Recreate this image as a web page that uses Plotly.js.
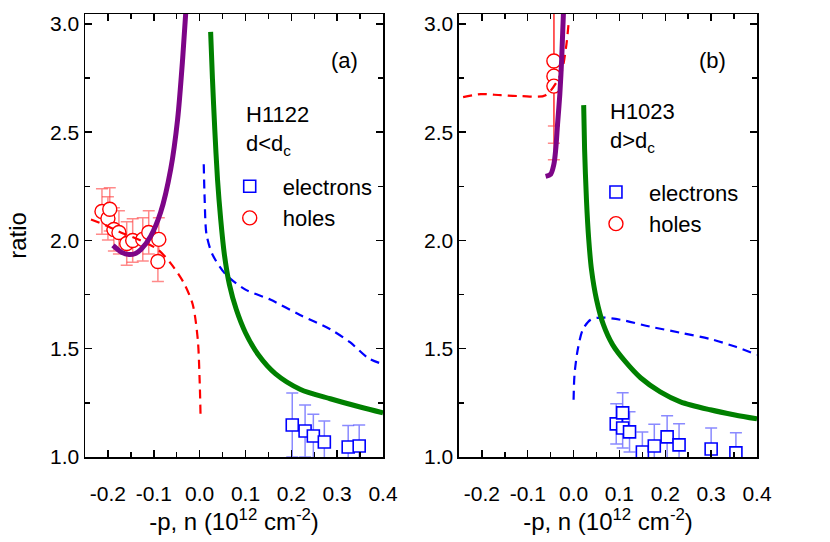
<!DOCTYPE html>
<html>
<head>
<meta charset="utf-8">
<script src="https://cdn.plot.ly/plotly-3.0.1.min.js"></script>
<style>
  body { margin: 0; background: #fff; }
  #chart { width: 830px; height: 542px; }
</style>
</head>
<body>
<div id="chart"></div>
<script>
// ---- panel (a): H1122, d < dc ----
var aElecX = [0.202, 0.230, 0.248, 0.272, 0.324, 0.348];
var aElecY = [1.148, 1.120, 1.097, 1.069, 1.046, 1.051];
var aElecErr = [0.148, 0.12, 0.10, 0.097, 0.10, 0.097];

var aHoleX = [-0.213, -0.200, -0.196, -0.187, -0.176, -0.159, -0.146, -0.124, -0.111, -0.089, -0.091];
var aHoleY = [2.134, 2.102, 2.144, 2.051, 2.037, 1.986, 2.000, 2.005, 2.037, 2.005, 1.903];
var aHoleErr = [0.105, 0.10, 0.10, 0.10, 0.10, 0.10, 0.10, 0.10, 0.10, 0.10, 0.093];

// purple (holes) solid curve
var aPurpleX = [-0.189, -0.170, -0.154, -0.140, -0.128, -0.107, -0.085, -0.063, -0.048, -0.037, -0.030];
var aPurpleY = [1.977, 1.945, 1.935, 1.940, 1.958, 2.019, 2.130, 2.330, 2.560, 2.840, 3.060];
// green (electrons) solid curve
var aGreenX = [0.024, 0.028, 0.033, 0.039, 0.046, 0.054, 0.065, 0.080, 0.100, 0.128, 0.165, 0.220, 0.285, 0.350, 0.400];
var aGreenY = [2.963, 2.745, 2.514, 2.282, 2.097, 1.935, 1.796, 1.681, 1.574, 1.472, 1.385, 1.312, 1.269, 1.231, 1.204];
// red (holes) dashed curve
var aRedX = [-0.237, -0.204, -0.172, -0.128, -0.091, -0.063, -0.035, -0.015, -0.004, 0.000, 0.002];
var aRedY = [2.097, 2.069, 2.037, 2.000, 1.958, 1.894, 1.806, 1.704, 1.542, 1.356, 1.194];
// blue (electrons) dashed curve
var aBlueX = [0.009, 0.011, 0.015, 0.028, 0.057, 0.100, 0.154, 0.220, 0.285, 0.328, 0.367, 0.400];
var aBlueY = [2.352, 2.190, 2.028, 1.935, 1.843, 1.773, 1.727, 1.655, 1.590, 1.530, 1.458, 1.428];

// ---- panel (b): H1023, d > dc ----
var bElecX = [0.093, 0.107, 0.107, 0.122, 0.150, 0.176, 0.204, 0.230, 0.300, 0.354];
var bElecY = [1.153, 1.204, 1.134, 1.116, 1.023, 1.051, 1.093, 1.056, 1.037, 1.019];
var bElecErr = [0.093, 0.093, 0.093, 0.093, 0.093, 0.10, 0.097, 0.097, 0.097, 0.093];

var bHoleX = [-0.043, -0.043, -0.043];
var bHoleY = [2.829, 2.759, 2.713];
var bHoleErr = [0.30, 0.31, 0.34];

var bPurpleX = [-0.061, -0.050, -0.043, -0.039, -0.035, -0.030, -0.026, -0.022];
var bPurpleY = [2.296, 2.306, 2.352, 2.421, 2.537, 2.676, 2.838, 3.060];
var bGreenX = [0.022, 0.024, 0.028, 0.033, 0.039, 0.050, 0.065, 0.085, 0.113, 0.146, 0.189, 0.233, 0.298, 0.352, 0.400];
var bGreenY = [2.625, 2.421, 2.190, 2.005, 1.866, 1.727, 1.611, 1.519, 1.440, 1.366, 1.301, 1.255, 1.218, 1.194, 1.176];
var bRedX = [-0.241, -0.202, -0.159, -0.115, -0.061, -0.028, -0.017, -0.011];
var bRedY = [2.662, 2.676, 2.671, 2.667, 2.671, 2.769, 2.884, 3.000];
var bBlueX = [0.000, 0.002, 0.009, 0.020, 0.037, 0.059, 0.102, 0.167, 0.233, 0.298, 0.352, 0.400];
var bBlueY = [1.264, 1.380, 1.495, 1.588, 1.634, 1.644, 1.634, 1.602, 1.574, 1.545, 1.510, 1.472];

var xTickVals = [-0.2, -0.1, 0.0, 0.1, 0.2, 0.3, 0.4];
var xTickText = ['-0.2', '-0.1', '0.0', '0.1', '0.2', '0.3', '0.4'];

var FONT = 'Liberation Sans, Arial, Helvetica, sans-serif';
var BLUE = 'rgb(0,0,255)', RED = 'rgb(255,0,0)';
var PURPLE = 'rgb(125,5,135)', GREEN = 'rgb(0,128,0)';
var XRANGE = [-0.25, 0.4];

function elec(x, y, err, xa, ya, leg, show) {
  return {
    x: x, y: y, xaxis: xa, yaxis: ya, type: 'scatter', mode: 'markers',
    name: 'electrons', legend: leg, showlegend: show,
    marker: {symbol: 'square', size: 12, color: 'white', line: {color: BLUE, width: 1.6}},
    error_y: {type: 'data', array: err, visible: true, color: 'rgba(60,60,255,0.6)', thickness: 1.5, width: 6}
  };
}
function holes(x, y, err, xa, ya, leg, show) {
  return {
    x: x, y: y, xaxis: xa, yaxis: ya, type: 'scatter', mode: 'markers',
    name: 'holes', legend: leg, showlegend: show,
    marker: {symbol: 'circle', size: 14, color: 'white', line: {color: RED, width: 1.4}},
    error_y: {type: 'data', array: err, visible: true, color: 'rgba(255,60,60,0.6)', thickness: 1.5, width: 6}
  };
}
function curve(x, y, xa, ya, color, w, dash) {
  return {
    x: x, y: y, xaxis: xa, yaxis: ya, type: 'scatter', mode: 'lines',
    showlegend: false, hoverinfo: 'skip',
    line: {color: color, width: w, dash: dash || 'solid', shape: 'spline', smoothing: 0.8}
  };
}
// empty trace so the overlaid label axis gets drawn
function holder(xa, ya) {
  return {x: [], y: [], xaxis: xa, yaxis: ya, type: 'scatter', mode: 'markers',
          showlegend: false, hoverinfo: 'skip'};
}

var data = [
  elec(aElecX, aElecY, aElecErr, 'x', 'y', 'legend', true),
  holes(aHoleX, aHoleY, aHoleErr, 'x', 'y', 'legend', true),
  curve(aRedX, aRedY, 'x', 'y', RED, 2.2, '9px,6px'),
  curve(aBlueX, aBlueY, 'x', 'y', BLUE, 2.2, '9px,6px'),
  curve(aGreenX, aGreenY, 'x', 'y', GREEN, 5),
  curve(aPurpleX, aPurpleY, 'x', 'y', PURPLE, 5),

  elec(bElecX, bElecY, bElecErr, 'x2', 'y2', 'legend2', true),
  holes(bHoleX, bHoleY, bHoleErr, 'x2', 'y2', 'legend2', true),
  curve(bRedX, bRedY, 'x2', 'y2', RED, 2.2, '9px,6px'),
  curve(bBlueX, bBlueY, 'x2', 'y2', BLUE, 2.2, '9px,6px'),
  curve(bGreenX, bGreenY, 'x2', 'y2', GREEN, 5),
  curve(bPurpleX, bPurpleY, 'x2', 'y2', PURPLE, 5),

  holder('x3', 'y'),
  holder('x4', 'y2')
];

// frame axis: line + inward ticks, no labels
function xAxis(domain, anchor) {
  return {
    domain: domain, anchor: anchor, range: XRANGE,
    tickmode: 'array', tickvals: xTickVals, showticklabels: false,
    ticks: 'inside', ticklen: 7, tickwidth: 1.5, tickcolor: 'black',
    minor: {ticks: 'inside', tick0: 0, dtick: 0.05, ticklen: 5, tickwidth: 1.5, tickcolor: 'black'},
    showline: true, linecolor: 'black', linewidth: 1.5, mirror: 'ticks',
    showgrid: false, zeroline: false
  };
}
// overlaid axis carrying the tick labels and the title, a little further down
function xLabelAxis(base, anchor) {
  return {
    overlaying: base, anchor: anchor, side: 'bottom', range: XRANGE,
    tickmode: 'array', tickvals: xTickVals, ticktext: xTickText,
    ticks: 'outside', ticklen: 18, tickcolor: 'rgba(0,0,0,0)',
    showline: false, showgrid: false, zeroline: false,
    tickfont: {family: FONT, size: 21, color: 'black'},
    title: {text: '-p, n (10<sup>12</sup> cm<sup>-2</sup>)', font: {family: FONT, size: 24, color: 'black'}, standoff: 2}
  };
}
function yAxis(anchor, title) {
  var ax = {
    anchor: anchor, range: [1.0, 3.046],
    tick0: 1, dtick: 0.5, tickformat: '.1f',
    ticks: 'inside', ticklen: 7, tickwidth: 1.5, tickcolor: 'black',
    minor: {ticks: 'inside', tick0: 1, dtick: 0.25, ticklen: 5, tickwidth: 1.5, tickcolor: 'black'},
    showline: true, linecolor: 'black', linewidth: 1.5, mirror: 'ticks',
    showgrid: false, zeroline: false,
    tickfont: {family: FONT, size: 21, color: 'black'}
  };
  if (title) ax.title = {text: title, font: {family: FONT, size: 24, color: 'black'}, standoff: 16};
  return ax;
}

function note(text, x, y, xr, yr, anchor) {
  return {text: text, x: x, y: y, xref: xr, yref: yr, showarrow: false,
          xanchor: anchor || 'left', yanchor: 'middle',
          font: {family: FONT, size: 22, color: 'black'}};
}

var layout = {
  width: 830, height: 542,
  margin: {l: 85, r: 73, t: 14, b: 85},
  paper_bgcolor: 'white', plot_bgcolor: 'white',
  font: {family: FONT, color: 'black'},
  xaxis: xAxis([0, 0.4435], 'y'),
  yaxis: yAxis('x', 'ratio'),
  xaxis2: xAxis([0.5565, 1], 'y2'),
  yaxis2: yAxis('x2'),
  xaxis3: xLabelAxis('x', 'y'),
  xaxis4: xLabelAxis('x2', 'y2'),
  legend: {x: 0.196, y: 0.658, xanchor: 'left', yanchor: 'top', itemwidth: 56,
           bgcolor: 'rgba(0,0,0,0)', font: {family: FONT, size: 22, color: 'black'}, tracegroupgap: 0},
  legend2: {x: 0.741, y: 0.645, xanchor: 'left', yanchor: 'top', itemwidth: 56,
            bgcolor: 'rgba(0,0,0,0)', font: {family: FONT, size: 22, color: 'black'}, tracegroupgap: 0},
  annotations: [
    note('(a)', 0.317, 2.829, 'x', 'y', 'center'),
    note('H1122', 0.096, 2.583, 'x', 'y'),
    note('d&lt;d<sub>c</sub>', 0.096, 2.44, 'x', 'y'),
    note('(b)', 0.304, 2.829, 'x2', 'y2', 'center'),
    note('H1023', 0.076, 2.597, 'x2', 'y2'),
    note('d&gt;d<sub>c</sub>', 0.076, 2.455, 'x2', 'y2')
  ],
  showlegend: true
};

Plotly.newPlot('chart', data, layout, {displayModeBar: false, staticPlot: true});
</script>
</body>
</html>
